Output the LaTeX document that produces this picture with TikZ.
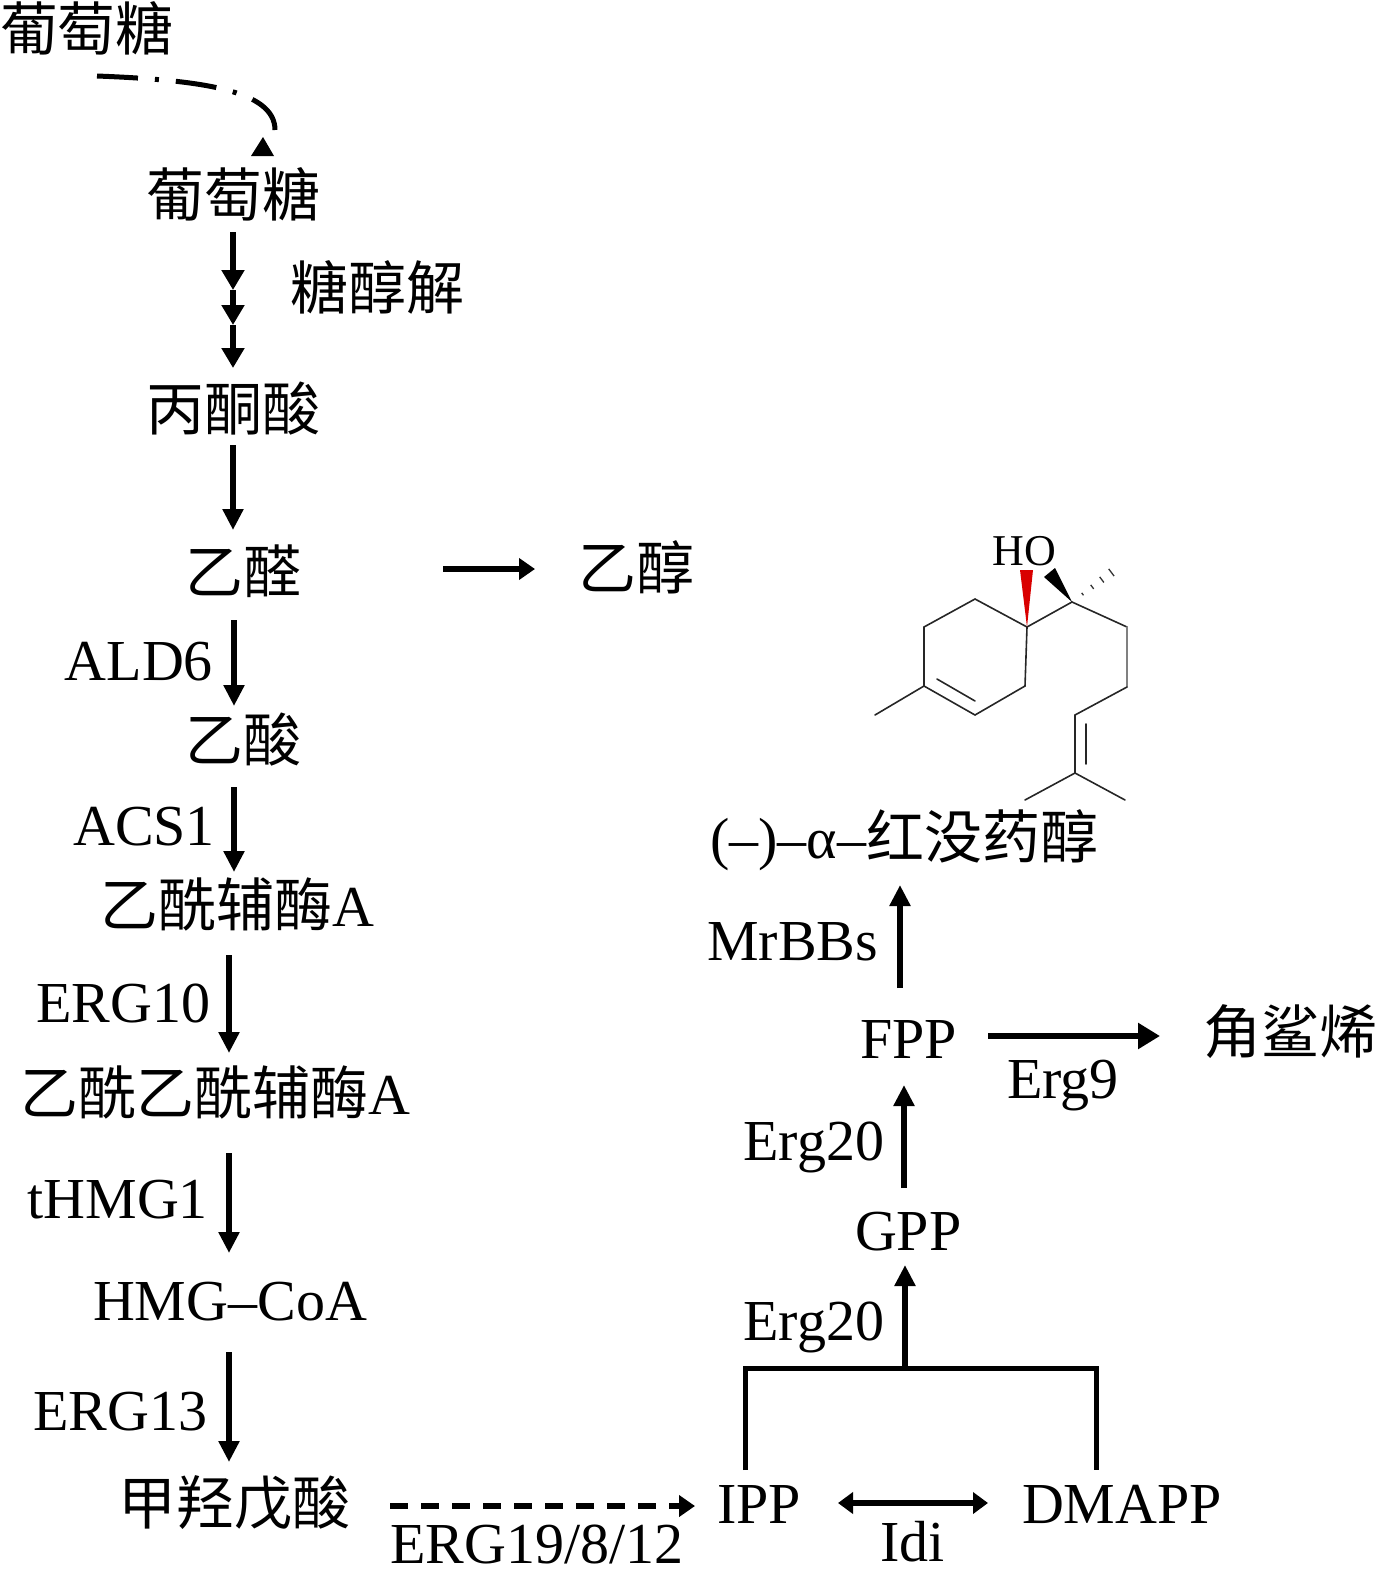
\documentclass[tikz,border=0pt]{standalone}
\usepackage{fontspec}
\setmainfont{Liberation Serif}
\newfontfamily\cjk{Noto Sans CJK SC}
\usetikzlibrary{arrows.meta,calc}
\begin{document}
\begin{tikzpicture}[x=1pt,y=-1pt,
  lbl/.style={inner sep=0pt, outer sep=0pt, font=\fontsize{58}{60}\selectfont},
  arr/.style={line width=5.5pt, -{Triangle[length=21pt,width=20pt]}},
  harr/.style={line width=5.5pt, -{Triangle[length=16pt,width=21pt]}},
  bond/.style={line width=1.6pt, black!85, line cap=round},
  dashdot/.style={line width=5pt, dash pattern=on 41pt off 17pt on 4pt off 17pt}]
\useasboundingbox (0,0) rectangle (1376,1569);
% ---------- nodes ----------
\node[lbl,anchor=base west] (glc0) at (0,50) {\cjk 葡萄糖};
\node[lbl,anchor=base west] (glc) at (146,216) {\cjk 葡萄糖};
\node[lbl,anchor=base west] (glyc) at (290,309) {\cjk 糖醇解};
\node[lbl,anchor=base west] (pyr) at (146,430) {\cjk 丙酮酸};
\node[lbl,anchor=base west] (acald) at (185,593) {\cjk 乙醛};
\node[lbl,anchor=base west] (etoh) at (578,589) {\cjk 乙醇};
\node[lbl,anchor=base east] (ald6) at (213,680) {ALD6};
\node[lbl,anchor=base west] (ac) at (185,761) {\cjk 乙酸};
\node[lbl,anchor=base east] (acs1) at (215,845) {ACS1};
\node[lbl,anchor=base west] (accoa) at (100,926) {{\cjk 乙酰辅酶}A};
\node[lbl,anchor=base east] (erg10) at (210,1022) {ERG10};
\node[lbl,anchor=base west] (aacoa) at (20,1114) {{\cjk 乙酰乙酰辅酶}A};
\node[lbl,anchor=base east] (thmg) at (208,1218) {tHMG1};
\node[lbl,anchor=base west] (hmg) at (93,1320) {HMG–CoA};
\node[lbl,anchor=base east] (erg13) at (207,1430) {ERG13};
\node[lbl,anchor=base west] (mva) at (118,1524) {\cjk 甲羟戊酸};
\node[lbl,anchor=base west,text depth=0pt] (erg19) at (390,1563) {ERG19/8/12};
\node[lbl,anchor=base west] (ipp) at (717,1523) {IPP};
\node[lbl,anchor=base west,text depth=0pt] (idi) at (880,1561) {Idi};
\node[lbl,anchor=base west] (dmapp) at (1022,1523) {DMAPP};
\node[lbl,anchor=base east] (erg20a) at (884,1340) {Erg20};
\node[lbl,anchor=base west] (gpp) at (855,1250) {GPP};
\node[lbl,anchor=base east] (erg20b) at (884,1160) {Erg20};
\node[lbl,anchor=base west] (fpp) at (860,1058) {FPP};
\node[lbl,anchor=base west] (erg9) at (1007,1098) {Erg9};
\node[lbl,anchor=base west] (sq) at (1203,1053) {\cjk 角鲨烯};
\node[lbl,anchor=base east] (mrbbs) at (878,960) {MrBBs};
\node[lbl,anchor=base west] (bisa) at (710,858) {(–)–α–{\cjk 红没药醇}};
\node[inner sep=0pt, font=\fontsize{44}{44}\selectfont, anchor=base] (ho) at (1024,565) {HO};
% ---------- coordinates ----------
\coordinate (c0a) at (97,76);
\coordinate (c0b) at (275,130);
\coordinate (g1) at (233,232);
\coordinate (g2) at (233,290);
\coordinate (g3) at (233,325);
\coordinate (g4) at (233,368);
\coordinate (p1) at (233,445);
\coordinate (p2) at (233,530);
\coordinate (e1) at (443,569);
\coordinate (e2) at (535,569);
\coordinate (a1) at (234,620);
\coordinate (a2) at (234,706);
\coordinate (s1) at (234,787);
\coordinate (s2) at (234,872);
\coordinate (r1) at (229,955);
\coordinate (r2) at (229,1053);
\coordinate (t1) at (229,1153);
\coordinate (t2) at (229,1253);
\coordinate (m1) at (229,1352);
\coordinate (m2) at (229,1462);
\coordinate (d1) at (390,1506);
\coordinate (d2) at (695,1506);
\coordinate (i1) at (838,1503);
\coordinate (i2) at (988,1503);
\coordinate (bL) at (745,1470);
\coordinate (bLt) at (745,1368);
\coordinate (bRt) at (1096,1368);
\coordinate (bR) at (1096,1470);
\coordinate (bs) at (905,1368);
\coordinate (gp) at (905,1265);
\coordinate (f1) at (904,1188);
\coordinate (f2) at (904,1085);
\coordinate (q1) at (988,1036);
\coordinate (q2) at (1160,1036);
\coordinate (b1) at (900,988);
\coordinate (b2) at (900,885);
% ---------- connectors ----------
\draw[dashdot] (c0a) .. controls (200,80) and (275,90) .. (c0b);
\fill (263,137) -- (274,156) -- (251,156) -- cycle;
\draw[arr, line width=6pt, -{Triangle[length=20pt,width=22pt]}] (g1) -- (g2);
\draw[arr, line width=6pt, -{Triangle[length=20pt,width=22pt]}] (g2) -- (g3);
\draw[arr, line width=6pt, -{Triangle[length=20pt,width=22pt]}] (g3) -- (g4);
\draw[arr] (p1) -- (p2);
\draw[harr] (e1) -- (e2);
\draw[arr] (a1) -- (a2);
\draw[arr] (s1) -- (s2);
\draw[arr] (r1) -- (r2);
\draw[arr] (t1) -- (t2);
\draw[arr] (m1) -- (m2);
\draw[harr, line width=6pt, dash pattern=on 18pt off 13pt] (d1) -- (d2);
\draw[line width=6pt, {Triangle[length=15pt,width=21pt]}-{Triangle[length=15pt,width=21pt]}] (i1) -- (i2);
\draw[line width=5pt] (bL) -- (bLt) -- (bRt) -- (bR);
\draw[arr] (bs) -- (gp);
\draw[arr] (f1) -- (f2);
\draw[line width=6.5pt, -{Triangle[length=22pt,width=25pt]}] (q1) -- (q2);
\draw[arr] (b1) -- (b2);
% ---------- molecule ----------
\coordinate (r1c) at (1027,627);
\coordinate (r2c) at (975,599);
\coordinate (r3c) at (924,627);
\coordinate (r4c) at (924,686);
\coordinate (r5c) at (975,715);
\coordinate (r6c) at (1025,686);
\coordinate (me1) at (875,715);
\coordinate (c7) at (1072,602);
\coordinate (c8) at (1127,627);
\coordinate (c9) at (1127,687);
\coordinate (c10) at (1075,715);
\coordinate (c11) at (1075,773);
\coordinate (me2) at (1025,800);
\coordinate (me3) at (1125,800);
\coordinate (hx) at (1120,566);
\draw[bond] (r1c) -- (r2c) -- (r3c) -- (r4c) -- (r5c) -- (r6c) -- (r1c);
\draw[bond] (937,679) -- (975,701);
\draw[bond] (r4c) -- (me1);
\draw[bond] (r1c) -- (c7) -- (c8);
\draw[bond, gray] (c8) -- (c9);
\draw[bond] (c9) -- (c10) -- (c11);
\draw[bond] (1086,724) -- (1086,764);
\draw[bond] (c11) -- (me2);
\draw[bond] (c11) -- (me3);
\fill[red!85!black] (1020,570) -- (1033,570) -- (r1c) -- cycle;
\fill[black] (c7) -- (1055,568) -- (1044,577) -- cycle;
\foreach \t/\w in {0.22/1.5,0.42/2.5,0.62/3.5,0.82/4.5}{
  \draw[line width=1.3pt, black!80] ($(c7)!\t!(hx)+(-0.6*\w,-0.8*\w)$) -- ($(c7)!\t!(hx)+(0.6*\w,0.8*\w)$);
}
\end{tikzpicture}
\end{document}
